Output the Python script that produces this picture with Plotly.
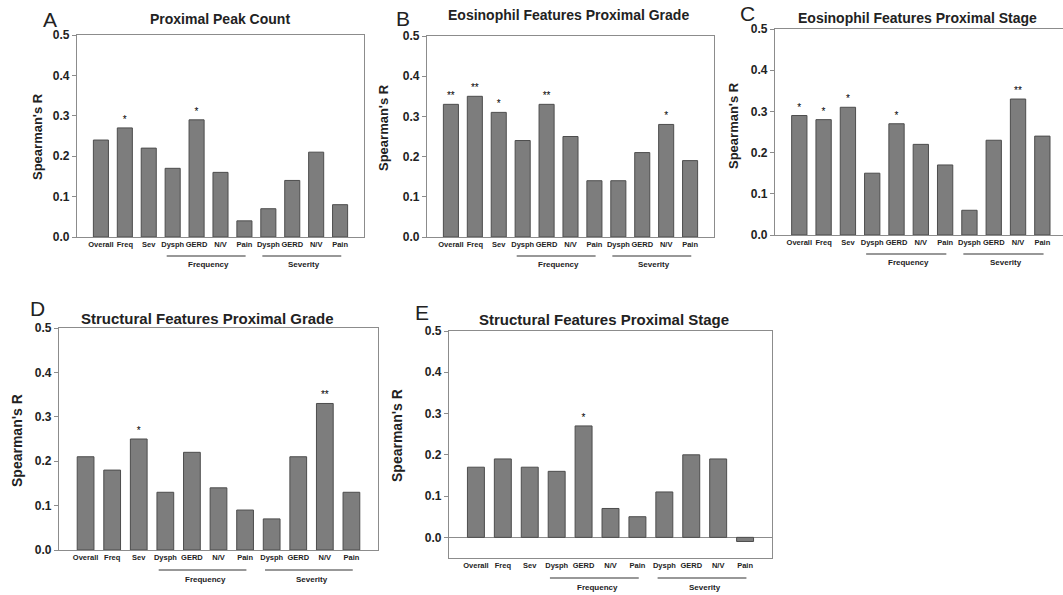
import plotly.graph_objects as go

W, H = 1063, 595

categories = ["Overall", "Freq", "Sev", "Dysph", "GERD", "N/V", "Pain",
              "Dysph", "GERD", "N/V", "Pain"]
groups = [("Frequency", 3, 6), ("Severity", 7, 10)]

titles = ["Proximal Peak Count",
          "Eosinophil Features Proximal Grade",
          "Eosinophil Features Proximal Stage",
          "Structural Features Proximal Grade",
          "Structural Features Proximal Stage"]
letters = ["A", "B", "C", "D", "E"]

vals_A = [0.24, 0.27, 0.22, 0.17, 0.29, 0.16, 0.04, 0.07, 0.14, 0.21, 0.08]
sig_A = ["", "*", "", "", "*", "", "", "", "", "", ""]
vals_B = [0.33, 0.35, 0.31, 0.24, 0.33, 0.25, 0.14, 0.14, 0.21, 0.28, 0.19]
sig_B = ["**", "**", "*", "", "**", "", "", "", "", "*", ""]
vals_C = [0.29, 0.28, 0.31, 0.15, 0.27, 0.22, 0.17, 0.06, 0.23, 0.33, 0.24]
sig_C = ["*", "*", "*", "", "*", "", "", "", "", "**", ""]
vals_D = [0.21, 0.18, 0.25, 0.13, 0.22, 0.14, 0.09, 0.07, 0.21, 0.33, 0.13]
sig_D = ["", "", "*", "", "", "", "", "", "", "**", ""]
vals_E = [0.17, 0.19, 0.17, 0.16, 0.27, 0.07, 0.05, 0.11, 0.20, 0.19, -0.01]
sig_E = ["", "", "", "", "*", "", "", "", "", "", ""]

values = [vals_A, vals_B, vals_C, vals_D, vals_E]
sigs = [sig_A, sig_B, sig_C, sig_D, sig_E]
y_ticks = [0.0, 0.1, 0.2, 0.3, 0.4, 0.5]

# layout in pixels: (left, right, top, bottom)
panels = [
    dict(px=(77, 364, 35, 237), yr=[0, 0.5], xr=[-1, 11], title=(220, 19, 14), letter=(50, 20), ytitle=(38, 137, 13), glines=(256, 264), mirror=True),
    dict(px=(427, 714, 36, 237), yr=[0, 0.5], xr=[-1, 11], title=(568, 15, 14), letter=(403, 18), ytitle=(383, 128, 13), glines=(256, 264), mirror=True),
    dict(px=(775, 1063, 29, 235), yr=[0, 0.5], xr=[-1, 10.85], title=(917, 18, 14), letter=(747, 13), ytitle=(733, 126, 13), glines=(254, 262), mirror=False),
    dict(px=(59, 378, 328, 550), yr=[0, 0.5], xr=[-1, 11], title=(207, 318, 15), letter=(37, 308), ytitle=(17, 441, 14), glines=(570, 579), mirror=True),
    dict(px=(449, 772, 331, 558), yr=[-0.05, 0.5], xr=[-1, 11], title=(604, 319, 15), letter=(422, 312), ytitle=(397, 436, 14), glines=(578, 587), mirror=True),
]

FONT = "Arial, Liberation Sans, sans-serif"
FRAME = "#8c8c8c"
TXT = "#222222"


def fx(p):
    return p / W


def fy(p):
    return 1 - p / H


fig = go.Figure()
annotations = []
shapes = []

for i, (cfg, v, s) in enumerate(zip(panels, values, sigs)):
    n = "" if i == 0 else str(i + 1)
    l, r, t, b = cfg["px"]
    xs = list(range(len(categories)))
    fig.add_trace(go.Bar(
        x=xs, y=v, text=s, textposition="outside",
        textfont=dict(size=10, color="#000000", family=FONT),
        marker=dict(color="#7d7d7d", line=dict(color="#4d4d4d", width=1)),
        width=0.63, cliponaxis=False, showlegend=False,
        xaxis="x" + n, yaxis="y" + n, hoverinfo="x+y",
    ))
    fig.layout["xaxis" + n] = dict(
        domain=[fx(l), min(1.0, fx(r))], range=cfg["xr"], anchor="y" + n,
        tickvals=xs, ticktext=categories, ticks="", tickangle=0,
        tickfont=dict(size=7.5, color=TXT, family=FONT, weight="bold"),
        showline=True, linecolor=FRAME, linewidth=1.3, mirror=True,
        showgrid=False, zeroline=False, fixedrange=True, automargin=False,
    )
    fig.layout["yaxis" + n] = dict(
        domain=[fy(b), fy(t)], range=cfg["yr"], anchor="x" + n,
        tickvals=y_ticks, ticktext=[f"{y:.1f}" for y in y_ticks],
        ticks="outside", ticklen=4, tickcolor=FRAME,
        tickfont=dict(size=12, color=TXT, family=FONT, weight="bold"),
        showline=True, linecolor=FRAME, linewidth=1.3, mirror=cfg["mirror"],
        showgrid=False, zeroline=(cfg["yr"][0] < 0), zerolinecolor=FRAME,
        zerolinewidth=1.3, fixedrange=True, automargin=False,
    )
    tx, ty, ts = cfg["title"]
    annotations.append(dict(text="<b>" + titles[i] + "</b>", x=fx(tx), y=fy(ty),
                            xref="paper", yref="paper", showarrow=False,
                            xanchor="center", yanchor="middle",
                            font=dict(size=ts, color=TXT, family=FONT)))
    lx, ly = cfg["letter"]
    annotations.append(dict(text=letters[i], x=fx(lx), y=fy(ly), xref="paper",
                            yref="paper", showarrow=False, xanchor="center",
                            yanchor="middle",
                            font=dict(size=21, color=TXT, family=FONT)))
    yx, yy, ys = cfg["ytitle"]
    annotations.append(dict(text="<b>Spearman's R</b>", x=fx(yx), y=fy(yy),
                            xref="paper", yref="paper", showarrow=False,
                            textangle=-90, xanchor="center", yanchor="middle",
                            font=dict(size=ys, color=TXT, family=FONT)))
    gl, gt = cfg["glines"]
    for name, a, z in groups:
        shapes.append(dict(type="line", xref="x" + n, yref="paper",
                           x0=a - 0.25, x1=z + 0.05, y0=fy(gl), y1=fy(gl),
                           line=dict(color="#333333", width=1.2)))
        annotations.append(dict(text="<b>" + name + "</b>", x=(a + z) / 2,
                                y=fy(gt), xref="x" + n, yref="paper",
                                showarrow=False, xanchor="center",
                                yanchor="middle",
                                font=dict(size=8, color=TXT, family=FONT)))

fig.update_layout(
    width=W, height=H, margin=dict(l=0, r=0, t=0, b=0, autoexpand=False),
    paper_bgcolor="white", plot_bgcolor="white",
    annotations=annotations, shapes=shapes, bargap=0.35,
    font=dict(family=FONT),
)

fig.write_html("out.html",
               config={"displayModeBar": False},
               post_script="document.body.style.margin='0px';"
                           "document.body.style.overflow='hidden';")
